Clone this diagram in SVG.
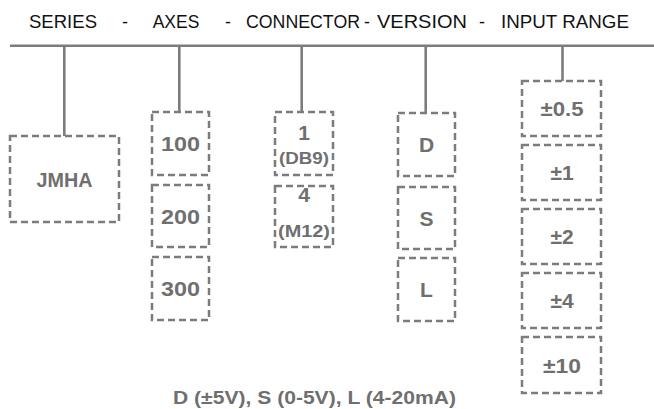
<svg xmlns="http://www.w3.org/2000/svg" width="654" height="409" viewBox="0 0 654 409">
<style>
.hdr{font-family:"Liberation Sans",Arial,sans-serif;font-size:18px;fill:#111}
.box{fill:#fff;stroke:#7c7c7c;stroke-width:2.5;stroke-dasharray:7 4}
.lbl{font-family:"Liberation Sans",Arial,sans-serif;font-weight:bold;font-size:21px;fill:#6f6f6f;text-anchor:middle}
.sm{font-size:16px}
.con{stroke:#7c7c7c;stroke-width:2.6;fill:none}
</style>
<rect width="654" height="409" fill="#fff"/>
<g id="header">
<text class="hdr" x="29" y="27.5" textLength="68" lengthAdjust="spacingAndGlyphs">SERIES</text>
<text class="hdr" x="125" y="27.5" text-anchor="middle">-</text>
<text class="hdr" x="152.7" y="27.5" textLength="46.6" lengthAdjust="spacingAndGlyphs">AXES</text>
<text class="hdr" x="228" y="27.5" text-anchor="middle">-</text>
<text class="hdr" x="246" y="27.5" textLength="114" lengthAdjust="spacingAndGlyphs">CONNECTOR</text>
<text class="hdr" x="367" y="27.5" text-anchor="middle">-</text>
<text class="hdr" x="377" y="27.5" textLength="90" lengthAdjust="spacingAndGlyphs">VERSION</text>
<text class="hdr" x="482" y="27.5" text-anchor="middle">-</text>
<text class="hdr" x="501" y="27.5" textLength="128" lengthAdjust="spacingAndGlyphs">INPUT RANGE</text>
</g>
<g id="connectors">
<line class="con" x1="10" y1="45.7" x2="654" y2="45.7"/>
<line class="con" x1="64.3" y1="45.7" x2="64.3" y2="136"/>
<line class="con" x1="179.3" y1="45.7" x2="179.3" y2="112"/>
<line class="con" x1="301.7" y1="45.7" x2="301.7" y2="112"/>
<line class="con" x1="425.7" y1="45.7" x2="425.7" y2="113"/>
<line class="con" x1="562.5" y1="45.7" x2="562.5" y2="81"/>
</g>
<g id="series-jmha"><rect class="box" x="10" y="136" width="109" height="86"/><text class="lbl" x="64.5" y="186.5" textLength="56" lengthAdjust="spacingAndGlyphs">JMHA</text></g>
<g id="axes-100"><rect class="box" x="152" y="112" width="57" height="63"/><text class="lbl" x="180.5" y="151" textLength="39" lengthAdjust="spacingAndGlyphs">100</text></g>
<g id="axes-200"><rect class="box" x="152" y="185" width="57" height="62"/><text class="lbl" x="180.5" y="223.5" textLength="39" lengthAdjust="spacingAndGlyphs">200</text></g>
<g id="axes-300"><rect class="box" x="152" y="257" width="57" height="63"/><text class="lbl" x="180.5" y="296" textLength="39" lengthAdjust="spacingAndGlyphs">300</text></g>
<g id="conn-1"><rect class="box" x="275" y="112" width="58" height="63"/><text class="lbl" x="304" y="140">1</text><text class="lbl sm" x="304" y="164" textLength="50" lengthAdjust="spacingAndGlyphs">(DB9)</text></g>
<g id="conn-4"><rect class="box" x="275" y="186" width="58" height="61"/><text class="lbl" x="304" y="201.5">4</text><text class="lbl sm" x="304" y="237" textLength="52" lengthAdjust="spacingAndGlyphs">(M12)</text></g>
<g id="ver-d"><rect class="box" x="398" y="113" width="57" height="63"/><text class="lbl" x="426.5" y="152">D</text></g>
<g id="ver-s"><rect class="box" x="398" y="187" width="57" height="62"/><text class="lbl" x="426.5" y="225.5">S</text></g>
<g id="ver-l"><rect class="box" x="398" y="258" width="57" height="63"/><text class="lbl" x="426.5" y="297">L</text></g>
<g id="in-05"><rect class="box" x="522" y="81" width="79" height="55"/><text class="lbl" x="562" y="116" textLength="43" lengthAdjust="spacingAndGlyphs">±0.5</text></g>
<g id="in-1"><rect class="box" x="522" y="145" width="79" height="55"/><text class="lbl" x="562" y="180">±1</text></g>
<g id="in-2"><rect class="box" x="522" y="209" width="79" height="55"/><text class="lbl" x="562" y="244">±2</text></g>
<g id="in-4"><rect class="box" x="522" y="273" width="79" height="55"/><text class="lbl" x="562" y="308">±4</text></g>
<g id="in-10"><rect class="box" x="522" y="337" width="79" height="56"/><text class="lbl" x="562" y="372.5" textLength="38" lengthAdjust="spacingAndGlyphs">±10</text></g>
<g id="note"><text class="lbl" x="314.5" y="404" style="font-size:19px" textLength="283" lengthAdjust="spacingAndGlyphs">D (±5V), S (0-5V), L (4-20mA)</text></g>
</svg>
